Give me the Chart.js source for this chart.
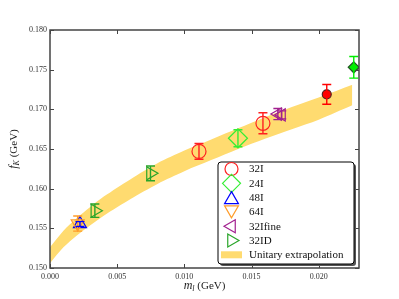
<!doctype html>
<html lang="en">
  <head>
    <meta charset="UTF-8" />
    <title>fK vs ml</title>
    <script src="https://cdn.jsdelivr.net/npm/chart.js"></script>
    <style>
      body { margin: 0; background: #fff; }
      #wrap { width: 399px; height: 299px; }
    </style>
  </head>
  <body>
    <div id="wrap"><canvas id="fkChart" width="399" height="299"></canvas></div>
    <script>
      // axis ticks
      const xTicks = [0, 0.005, 0.01, 0.015, 0.02];
      const yTicks = [0.15, 0.155, 0.16, 0.165, 0.17, 0.175, 0.18];

      // unitary extrapolation band
      const bandX = [0, 0.001, 0.002, 0.003, 0.004, 0.006, 0.008, 0.010, 0.012, 0.014, 0.016, 0.018, 0.020, 0.0225];
      const bandUpper = [0.1526, 0.1547, 0.1563, 0.1577, 0.1590, 0.1612, 0.1632, 0.1648, 0.1662, 0.1676, 0.1690, 0.1703, 0.1715, 0.1731];
      const bandLower = [0.1506, 0.1526, 0.1541, 0.1554, 0.1566, 0.1587, 0.1606, 0.1622, 0.1636, 0.1650, 0.1663, 0.1675, 0.1687, 0.1705];

      // ensembles: x = m_l, y = f_K, e = error
      const x32I = [0.01109, 0.01585];
      const y32I = [0.1647, 0.16824];
      const e32I = [0.0010, 0.00132];
      const x32Iphys = [0.0206];
      const y32Iphys = [0.17189];
      const e32Iphys = [0.00124];
      const x24I = [0.01399];
      const y24I = [0.16635];
      const e24I = [0.00107];
      const x24Iphys = [0.02261];
      const y24Iphys = [0.1753];
      const e24Iphys = [0.00136];
      const x48I = [0.00223];
      const y48I = [0.15555];
      const e48I = [0.0003];
      const x64I = [0.00206];
      const y64I = [0.1556];
      const e64I = [0.00095];
      const x32Ifine = [0.01696, 0.01725];
      const y32Ifine = [0.1694, 0.1693];
      const e32Ifine = [0.0007, 0.0005];
      const x32ID = [0.00334, 0.00748];
      const y32ID = [0.15722, 0.16193];
      const e32ID = [0.00084, 0.00093];

      const legendLabels = ['32I', '24I', '48I', '64I', '32Ifine', '32ID', 'Unitary extrapolation'];

      const bandColor = '#ffdb70';
      const serif = "'Liberation Serif', 'DejaVu Serif', serif";

      function pts(xs, ys) {
        return xs.map((x, i) => ({ x: x, y: ys[i] }));
      }

      function series(label, xs, ys, errs, style, rot, r, color, fill, edge) {
        return {
          label: label,
          data: pts(xs, ys),
          errs: errs,
          pointStyle: style,
          rotation: rot,
          pointRadius: r,
          pointBorderWidth: 1.2,
          borderColor: edge || color,
          backgroundColor: fill ? color : 'rgba(0,0,0,0)',
          errColor: color,
          order: 1,
        };
      }

      const datasets = [
        { type: 'line', label: 'upper', data: pts(bandX, bandUpper), borderColor: 'rgba(0,0,0,0)', borderWidth: 0, pointRadius: 0, fill: false, tension: 0.3, order: 10 },
        { type: 'line', label: 'Unitary extrapolation', data: pts(bandX, bandLower), borderColor: 'rgba(0,0,0,0)', borderWidth: 0, pointRadius: 0, fill: '-1', backgroundColor: bandColor, tension: 0.3, order: 10 },
        series('64I', x64I, y64I, e64I, 'triangle', 180, 7.5, '#ff9c2a', false),
        series('48I', x48I, y48I, e48I, 'triangle', 0, 7.5, '#0000ff', false),
        series('32ID', x32ID, y32ID, e32ID, 'triangle', 90, 7.5, '#2aa52a', false),
        series('32Ifine', x32Ifine, y32Ifine, e32Ifine, 'triangle', -90, 7, '#a2208f', false),
        series('24I', x24I, y24I, e24I, 'rectRot', 0, 9.5, '#33ee33', false),
        series('32I', x32I, y32I, e32I, 'circle', 0, 7, '#ff2020', false),
        series('32I phys', x32Iphys, y32Iphys, e32Iphys, 'circle', 0, 4.5, '#ff0000', true, '#552222'),
        series('24I phys', x24Iphys, y24Iphys, e24Iphys, 'rectRot', 0, 5.5, '#00ee00', true, '#225522'),
      ];

      // legend entries: style, rotation, radius, colour
      const legendMarks = [
        ['circle', 0, 6.5, '#ff2020'],
        ['rectRot', 0, 9, '#33ee33'],
        ['triangle', 0, 8, '#0000ff'],
        ['triangle', 180, 8, '#ff9c2a'],
        ['triangle', -90, 7.5, '#a2208f'],
        ['triangle', 90, 7.5, '#2aa52a'],
      ];

      function markerPath(ctx, style, rot, r, x, y) {
        ctx.save();
        ctx.translate(x, y);
        ctx.rotate((rot * Math.PI) / 180);
        ctx.beginPath();
        if (style === 'circle') {
          ctx.arc(0, 0, r, 0, Math.PI * 2);
        } else if (style === 'rectRot') {
          ctx.moveTo(-r, 0);
          ctx.lineTo(0, -r);
          ctx.lineTo(r, 0);
          ctx.lineTo(0, r);
          ctx.closePath();
        } else {
          for (let k = 0; k < 3; k++) {
            const a = ((-90 + 120 * k) * Math.PI) / 180;
            if (k === 0) ctx.moveTo(r * Math.cos(a), r * Math.sin(a));
            else ctx.lineTo(r * Math.cos(a), r * Math.sin(a));
          }
          ctx.closePath();
        }
        ctx.restore();
      }

      function drawMathLabel(ctx, parts, cx, cy) {
        // parts: [text, size, italic, shift]
        let total = 0;
        parts.forEach(p => {
          ctx.font = (p[2] ? 'italic ' : '') + p[1] + 'px ' + serif;
          total += ctx.measureText(p[0]).width;
        });
        let x = cx - total / 2;
        parts.forEach(p => {
          ctx.font = (p[2] ? 'italic ' : '') + p[1] + 'px ' + serif;
          ctx.fillText(p[0], x, cy + p[3]);
          x += ctx.measureText(p[0]).width;
        });
      }

      const decor = {
        id: 'decor',
        afterDatasetsDraw(chart) {
          const ctx = chart.ctx;
          const xs = chart.scales.x;
          const ys = chart.scales.y;
          ctx.save();
          chart.data.datasets.forEach(ds => {
            if (!ds.errs) return;
            ctx.strokeStyle = ds.errColor;
            ctx.lineWidth = 1.4;
            ds.data.forEach((p, i) => {
              const px = xs.getPixelForValue(p.x);
              const top = ys.getPixelForValue(p.y + ds.errs[i]);
              const bot = ys.getPixelForValue(p.y - ds.errs[i]);
              ctx.beginPath();
              ctx.moveTo(px, top);
              ctx.lineTo(px, bot);
              ctx.moveTo(px - 4.5, top);
              ctx.lineTo(px + 4.5, top);
              ctx.moveTo(px - 4.5, bot);
              ctx.lineTo(px + 4.5, bot);
              ctx.stroke();
            });
          });
          ctx.restore();
        },
        afterDraw(chart) {
          const ctx = chart.ctx;
          const a = chart.chartArea;
          const xs = chart.scales.x;
          const ys = chart.scales.y;
          ctx.save();

          // frame and inward ticks
          ctx.strokeStyle = '#444';
          ctx.lineWidth = 1.5;
          ctx.strokeRect(a.left, a.top, a.right - a.left, a.bottom - a.top);
          ctx.lineWidth = 1;
          ctx.beginPath();
          xTicks.forEach(v => {
            const px = Math.round(xs.getPixelForValue(v)) + 0.5;
            ctx.moveTo(px, a.bottom);
            ctx.lineTo(px, a.bottom - 4);
            ctx.moveTo(px, a.top);
            ctx.lineTo(px, a.top + 4);
          });
          yTicks.forEach(v => {
            const py = Math.round(ys.getPixelForValue(v)) + 0.5;
            ctx.moveTo(a.left, py);
            ctx.lineTo(a.left + 4, py);
            ctx.moveTo(a.right, py);
            ctx.lineTo(a.right - 4, py);
          });
          ctx.stroke();

          // axis titles
          ctx.fillStyle = '#222';
          ctx.textBaseline = 'middle';
          drawMathLabel(ctx, [['m', 12, true, 0], ['l', 8, true, 3], [' (GeV)', 11, false, 0]], (a.left + a.right) / 2, 286);
          ctx.save();
          ctx.translate(14, (a.top + a.bottom) / 2);
          ctx.rotate(-Math.PI / 2);
          drawMathLabel(ctx, [['f', 12, true, 0], ['K', 8, true, 3], [' (GeV)', 11, false, 0]], 0, 0);
          ctx.restore();

          // legend box
          const bx = 218, by = 162, bw = 136, bh = 102;
          ctx.fillStyle = '#555';
          ctx.beginPath();
          ctx.roundRect(bx + 2, by + 2, bw, bh, 3);
          ctx.fill();
          ctx.fillStyle = '#fff';
          ctx.strokeStyle = '#000';
          ctx.lineWidth = 1;
          ctx.beginPath();
          ctx.roundRect(bx, by, bw, bh, 3);
          ctx.fill();
          ctx.stroke();

          const mx = 231.5, tx = 249, row0 = 169, rowH = 14.3;
          legendMarks.forEach((m, i) => {
            ctx.strokeStyle = m[3];
            ctx.lineWidth = 1.2;
            markerPath(ctx, m[0], m[1], m[2], mx, row0 + i * rowH + (m[0] === 'triangle' && m[1] === 0 ? 2 : m[0] === 'triangle' && m[1] === 180 ? -2 : 0));
            ctx.stroke();
          });
          ctx.fillStyle = bandColor;
          ctx.fillRect(221, row0 + 6 * rowH - 3.5, 21, 7);

          ctx.fillStyle = '#111';
          ctx.font = '11px ' + serif;
          ctx.textBaseline = 'middle';
          ctx.textAlign = 'left';
          legendLabels.forEach((t, i) => {
            ctx.fillText(t, tx, row0 + i * rowH + 0.5);
          });
          ctx.restore();
        },
      };

      new Chart(document.getElementById('fkChart').getContext('2d'), {
        type: 'scatter',
        data: { datasets: datasets },
        options: {
          responsive: false,
          animation: false,
          layout: { padding: { left: 0, top: 30, right: 40, bottom: 0 } },
          plugins: { legend: { display: false }, tooltip: { enabled: false } },
          scales: {
            x: {
              type: 'linear',
              min: 0,
              max: 0.023,
              grid: { display: false, drawTicks: false },
              border: { display: false },
              afterBuildTicks: s => { s.ticks = xTicks.map(v => ({ value: v })); },
              afterFit: s => { s.height = 31; },
              ticks: {
                padding: 4,
                maxRotation: 0,
                color: '#333',
                font: { family: serif, size: 8 },
                callback: v => v.toFixed(3),
              },
            },
            y: {
              type: 'linear',
              min: 0.15,
              max: 0.18,
              grid: { display: false, drawTicks: false },
              border: { display: false },
              afterBuildTicks: s => { s.ticks = yTicks.map(v => ({ value: v })); },
              afterFit: s => { s.width = 50; },
              ticks: {
                padding: 3,
                color: '#333',
                font: { family: serif, size: 8 },
                callback: v => v.toFixed(3),
              },
            },
          },
        },
        plugins: [decor],
      });
    </script>
  </body>
</html>
